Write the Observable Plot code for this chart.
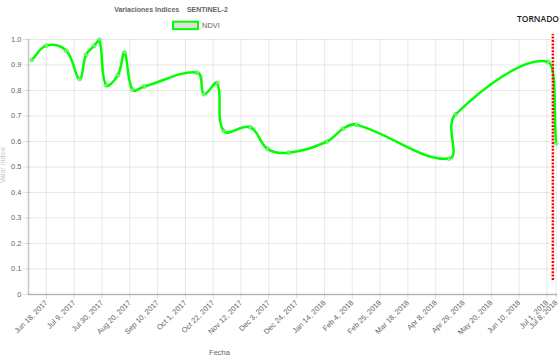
<!DOCTYPE html>
<html><head><meta charset="utf-8">
<script src="https://cdn.jsdelivr.net/npm/d3@7"></script>
<script src="https://cdn.jsdelivr.net/npm/@observablehq/plot@0.6"></script>
<style>
body{margin:0;background:#fff}
#wrap{width:560px;height:359px;overflow:hidden}
</style></head><body><div id="wrap"></div>
<script>
// ---- data ----
const dates = ["2017-06-07","2017-06-18","2017-07-03","2017-07-13","2017-07-18","2017-07-24","2017-07-28",
  "2017-08-02","2017-08-11","2017-08-16","2017-08-22","2017-08-31","2017-10-10","2017-10-15","2017-10-25",
  "2017-10-30","2017-11-19","2017-12-02","2017-12-18","2018-01-16","2018-01-28","2018-02-07","2018-04-18",
  "2018-04-23","2018-07-02","2018-07-08"];
const ndvi = [0.920,0.976,0.956,0.845,0.940,0.975,0.999,
  0.821,0.860,0.949,0.803,0.816,0.870,0.786,0.829,
  0.641,0.656,0.571,0.556,0.600,0.650,0.666,0.533,
  0.706,0.912,0.593];
const tickDates = ["2017-06-18","2017-07-09","2017-07-30","2017-08-20","2017-09-10","2017-10-01","2017-10-22",
  "2017-11-12","2017-12-03","2017-12-24","2018-01-14","2018-02-04","2018-02-25","2018-03-18","2018-04-08",
  "2018-04-29","2018-05-20","2018-06-10","2018-07-01","2018-07-08"];
const yTicks = [0,0.1,0.2,0.3,0.4,0.5,0.6,0.7,0.8,0.9,1.0];
const xDomain = ["2017-06-04T12:00","2018-07-09T00:00"];
const tornadoDate = "2018-07-05T12:00";
const tornadoSpan = [0.055, 1.02];
const seriesName = "NDVI";
const titleText = "Variaciones Indices    SENTINEL-2";
const xLabel = "Fecha";
const yLabel = "Valor índice";
const tornadoLabel = "TORNADO";

// ---- build ----
const parse = s => new Date(s + (s.length === 10 ? "T00:00Z" : "Z"));
const table = dates.map((d, i) => ({date: parse(d), value: ndvi[i]}));
const ticks = tickDates.map(parse);

const W = 560, H = 359, ML = 28, MR = 3, MT = 39, MB = 65;

// Chart.js v2 style spline (tension 0.4, capped control points)
function chartjsCurve(context) {
  let pts;
  const cap = (v, lo, hi) => Math.max(lo, Math.min(hi, v));
  return {
    areaStart() {}, areaEnd() {},
    lineStart() { pts = []; },
    point(x, y) { pts.push([+x, +y]); },
    lineEnd() {
      const t = 0.4, n = pts.length;
      if (!n) return;
      const cps = pts.map((p, i) => {
        const prev = pts[i - 1] || p, next = pts[i + 1] || p;
        const d01 = Math.hypot(p[0] - prev[0], p[1] - prev[1]);
        const d12 = Math.hypot(next[0] - p[0], next[1] - p[1]);
        let s01 = d01 / (d01 + d12), s12 = d12 / (d01 + d12);
        if (!isFinite(s01)) s01 = 0;
        if (!isFinite(s12)) s12 = 0;
        const fa = t * s01, fb = t * s12;
        return {
          px: cap(p[0] - fa * (next[0] - prev[0]), ML, W - MR),
          py: cap(p[1] - fa * (next[1] - prev[1]), MT, H - MB),
          nx: cap(p[0] + fb * (next[0] - prev[0]), ML, W - MR),
          ny: cap(p[1] + fb * (next[1] - prev[1]), MT, H - MB)
        };
      });
      context.moveTo(pts[0][0], pts[0][1]);
      for (let i = 1; i < n; i++)
        context.bezierCurveTo(cps[i - 1].nx, cps[i - 1].ny, cps[i].px, cps[i].py, pts[i][0], pts[i][1]);
    }
  };
}

const chart = Plot.plot({
  width: W, height: H,
  marginLeft: ML, marginRight: MR, marginTop: MT, marginBottom: MB,
  style: {fontFamily: "'Liberation Sans', Arial, sans-serif", fontSize: "7.5px", color: "#666", background: "#fff"},
  x: {type: "utc", domain: xDomain.map(parse)},
  y: {domain: [0, 1]},
  marks: [
    Plot.gridY(yTicks, {stroke: "#000", strokeOpacity: 0.09}),
    Plot.gridX(ticks, {stroke: "#000", strokeOpacity: 0.09}),
    Plot.axisY({ticks: yTicks, tickSize: 5, tickPadding: 2, stroke: "#000", strokeOpacity: 0.12, fill: "#666",
      tickFormat: d => d === 0 ? "0" : d.toFixed(1), label: null}),
    Plot.axisX({ticks: ticks, tickSize: 5, tickPadding: 2, tickRotate: -45, stroke: "#000", strokeOpacity: 0.12,
      fill: "#666", tickFormat: d3.utcFormat("%b %-d, %Y"), label: null}),
    Plot.ruleX([parse(xDomain[0])], {stroke: "#000", strokeOpacity: 0.22, strokeWidth: 1.5}),
    Plot.ruleY([0], {stroke: "#000", strokeOpacity: 0.22, strokeWidth: 1.5}),
    Plot.line(table, {x: "date", y: "value", stroke: "#00ff00", strokeWidth: 2.5, curve: chartjsCurve}),
    Plot.dot(table, {x: "date", y: "value", r: 2, fill: "#c8ffc8", fillOpacity: 0.45, stroke: "#00e600",
      strokeOpacity: 0.55, strokeWidth: 1}),
    Plot.ruleX([parse(tornadoDate)], {y1: tornadoSpan[0], y2: tornadoSpan[1], stroke: "#ff0000",
      strokeWidth: 2.5, strokeDasharray: "2,1.4"})
  ]
});

document.getElementById("wrap").appendChild(chart);

const svg = d3.select(chart);
const ov = svg.append("g").attr("font-family", "'Liberation Sans', Arial, sans-serif").attr("text-anchor", "start");
ov.append("text").attr("x", 171).attr("y", 11.7).attr("text-anchor", "middle")
  .attr("font-size", 7).attr("font-weight", "bold").attr("fill", "#666")
  .style("white-space", "pre").text(titleText);
ov.append("rect").attr("x", 173).attr("y", 21.7).attr("width", 25).attr("height", 7.4)
  .attr("fill", "#dedede").attr("stroke", "#00ff00").attr("stroke-width", 2);
ov.append("text").attr("x", 202).attr("y", 28.4).attr("text-anchor", "start")
  .attr("font-size", 7.5).attr("fill", "#666").text(seriesName);
ov.append("text").attr("x", 538).attr("y", 21.7).attr("text-anchor", "middle")
  .attr("font-family", "'Open Sans', sans-serif").attr("font-size", 8.5).attr("font-weight", 600)
  .attr("fill", "#222").text(tornadoLabel);
ov.append("text").attr("x", 219.5).attr("y", 355).attr("text-anchor", "middle")
  .attr("font-size", 7.5).attr("fill", "#666").text(xLabel);
ov.append("text").attr("transform", "translate(4.5,165) rotate(-90)").attr("text-anchor", "middle")
  .attr("font-size", 7).attr("fill", "#c4c4c4").text(yLabel);
</script></body></html>
